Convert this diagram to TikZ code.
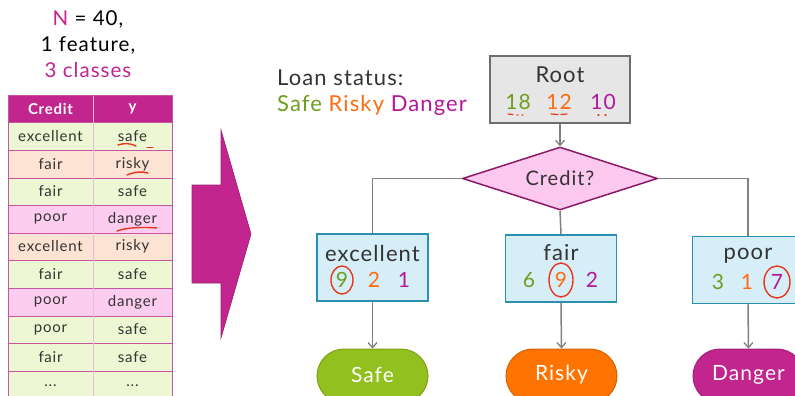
\documentclass[tikz,border=0pt]{standalone}
\usepackage{fontspec}
\setmainfont{Lato}[LetterSpace=5]
\usetikzlibrary{arrows.meta,shapes.geometric}

\definecolor{magc}{HTML}{C2258E}
\definecolor{txtgreen}{HTML}{6E9E1E}
\definecolor{txtorange}{HTML}{FF6A13}
\definecolor{txtmag}{HTML}{B3179C}
\definecolor{rowsafe}{HTML}{EEF7D4}
\definecolor{rowrisky}{HTML}{FDE3D3}
\definecolor{rowdanger}{HTML}{FDCDF0}
\definecolor{tabline}{HTML}{C8559F}
\definecolor{leaffill}{HTML}{D6EEF8}
\definecolor{leafline}{HTML}{2A8FB0}
\definecolor{rootfill}{HTML}{E6E6E6}
\definecolor{rootline}{HTML}{6E6E6E}
\definecolor{diafill}{HTML}{FCC8EE}
\definecolor{dialine}{HTML}{8B1A6B}
\definecolor{conn}{HTML}{808080}
\definecolor{pillgreen}{HTML}{92C01F}
\definecolor{pillorange}{HTML}{FF7300}
\definecolor{penred}{HTML}{E8361C}
\definecolor{inkdark}{HTML}{333333}

\tikzset{
  fsz/.style={font=\fontsize{#1}{#1}\selectfont},
  celltxt/.style={fsz=15, text=inkdark, inner sep=0pt},
  headtxt/.style={font=\fontsize{15}{15}\selectfont\bfseries, text=white, inner sep=0pt},
  leafbox/.style={draw=leafline, line width=1.5pt, fill=leaffill, minimum width=111pt, minimum height=67pt, inner sep=0pt},
  pill/.style={rounded corners=27pt, minimum width=111pt, minimum height=54pt, inner sep=0pt, line width=1pt},
  pilltxt/.style={fsz=21, text=white, inner sep=0pt},
  conline/.style={draw=conn, line width=1.5pt},
  conarrow/.style={conline, -{Straight Barb[length=5pt,width=9pt,line width=1.3pt]}},
  pen/.style={draw=penred, line width=1.4pt, line cap=round},
  numtxt/.style={fsz=21, inner sep=0pt},
}

\begin{document}
\begin{tikzpicture}[x=1pt,y=-1pt]
\useasboundingbox (0,0) rectangle (795,396);
\fill[white] (0,0) rectangle (795,396);

% data summary
\node[fsz=20.5, inner sep=0pt] (hN) at (88,19) {\textcolor{magc}{N} = 40,};
\node[fsz=20.5, inner sep=0pt] (hF) at (88,45) {1 feature,};
\node[fsz=20.5, inner sep=0pt, text=magc] (hC) at (88,70) {3 classes};

% table header
\fill[magc] (8,95) rectangle (172,122);
\draw[white!70!magc, line width=0.6pt] (93,95) -- (93,122);
\node[headtxt] (thA) at (50.5,108.5) {Credit};
\node[headtxt] (thB) at (132.5,108.5) {y};

% table rows: top, bottom, fill, credit, label
\foreach \t/\b/\c/\ca/\cb [count=\i] in {
  122/150/rowsafe/excellent/safe,
  150/178/rowrisky/fair/risky,
  178/205/rowsafe/fair/safe,
  205/233/rowdanger/poor/danger,
  233/260/rowrisky/excellent/risky,
  260/288/rowsafe/fair/safe,
  288/316/rowdanger/poor/danger,
  316/343/rowsafe/poor/safe,
  343/371/rowsafe/fair/safe}{
  \fill[\c] (8,\t) rectangle (172,\b);
  \draw[tabline, line width=0.7pt] (8,\t) -- (172,\t);
  \node[celltxt] (ca\i) at (50.5,{(\t+\b)/2}) {\ca};
  \node[celltxt] (cb\i) at (132.5,{(\t+\b)/2}) {\cb};
}
% trailing row, continued below the edge
\fill[rowsafe] (8,371) rectangle (172,400);
\draw[tabline, line width=0.7pt] (8,371) -- (172,371);
\node[celltxt] (ca10) at (50.5,386) {...};
\node[celltxt] (cb10) at (132.5,386) {...};
\draw[white!60!tabline, line width=0.6pt] (93,122) -- (93,400);
\draw[tabline, line width=1pt] (8,95) -- (8,400) (172,95) -- (172,400);
\draw[tabline, line width=1pt] (8,95) -- (172,95);

% pen marks in the table
\draw[pen] (118,145) .. controls (124,143) and (130,143) .. (136,146);
\draw[pen] (147,147.5) -- (153,147.5);
\draw[pen] (127,175) .. controls (134,172) and (142,171) .. (148,173);
\draw[pen] (117,231) .. controls (128,227) and (145,227) .. (157,228);

% block arrow
\draw[fill=magc, draw=magc!80!black, line width=0.6pt]
  (192,185) -- (221,185) -- (221,130) -- (251,234) -- (221,338) -- (221,283) -- (192,283) -- cycle;

% legend
\node[fsz=22, anchor=west, inner sep=0pt, text=inkdark] (lgA) at (277,78) {Loan status:};
\node[fsz=22, anchor=west, inner sep=0pt] (lgB) at (277,105)
  {\textcolor{txtgreen}{Safe} \textcolor{txtorange}{Risky} \textcolor{txtmag}{Danger}};

% root
\node[draw=rootline, line width=1.5pt, fill=rootfill, minimum width=140pt, minimum height=67pt, inner sep=0pt] (root) at (560,89.5) {};
\node[fsz=22, text=inkdark, inner sep=0pt] (rootT) at (560,75) {Root};
\node[numtxt, text=txtgreen] (r1) at (518,102) {18};
\node[numtxt, text=txtorange] (r2) at (559,102) {12};
\node[numtxt, text=txtmag] (r3) at (603,102) {10};
\draw[pen, line width=1.2pt] (508,114) -- (513,114.5) (517,115) -- (518,115) (522,115) -- (523,115);
\draw[pen, line width=1.2pt] (551,114) -- (558,114.5) (561,114.5) -- (567,114);
\draw[pen, line width=1.2pt] (598,115) -- (599,115) (605,115) -- (606,115);

% split
\node[shape=diamond, draw=dialine, line width=1.5pt, fill=diafill, minimum width=195pt, minimum height=63pt, inner sep=0pt] (split) at (560,178.5) {};
\node[fsz=20, text=inkdark, inner sep=0pt] (splitT) at (560,178.5) {Credit?};

% leaves
\node[leafbox] (ex) at (372.5,267.5) {};
\node[fsz=22, text=inkdark, inner sep=0pt] (exT) at (372.5,253) {excellent};
\node[numtxt, text=txtgreen] (e1) at (342,280) {9};
\node[numtxt, text=txtorange] (e2) at (374,280) {2};
\node[numtxt, text=txtmag] (e3) at (404,280) {1};

\node[leafbox] (fa) at (561,268.5) {};
\node[fsz=22, text=inkdark, inner sep=0pt] (faT) at (561,253) {fair};
\node[numtxt, text=txtgreen] (f1) at (529,280) {6};
\node[numtxt, text=txtorange] (f2) at (561,280) {9};
\node[numtxt, text=txtmag] (f3) at (592,280) {2};

\node[leafbox] (po) at (748,270) {};
\node[fsz=22, text=inkdark, inner sep=0pt] (poT) at (748,256) {poor};
\node[numtxt, text=txtgreen] (p1) at (718,282) {3};
\node[numtxt, text=txtorange] (p2) at (747,282) {1};
\node[numtxt, text=txtmag] (p3) at (777,282) {7};

% circled majority counts
\draw[pen] (e1) ellipse [x radius=11pt, y radius=14pt];
\draw[pen] (f2) ellipse [x radius=12pt, y radius=17pt];
\draw[pen] (p3) ellipse [x radius=13pt, y radius=16pt];

% predictions
\node[pill, fill=pillgreen, draw=pillgreen!85!black] (pS) at (372.5,376) {};
\node[pilltxt] (pST) at (372.5,375) {Safe};
\node[pill, fill=pillorange, draw=pillorange!85!black] (pR) at (561.5,376) {};
\node[pilltxt] (pRT) at (561.5,375) {Risky};
\node[pill, fill=magc, draw=magc!85!black] (pD) at (748.5,376) {};
\node[pilltxt] (pDT) at (748.5,375) {Danger};

% connectors
\draw[conarrow] (root.south) -- (split.north);
\draw[conline] (split.west) -| (ex.north);
\draw[conline] (split.south) -- (fa.north);
\draw[conline] (split.east) -| (po.north);
\draw[conarrow] (ex.south) -- (pS.north);
\draw[conarrow] (fa.south) -- (pR.north);
\draw[conarrow] (po.south) -- (pD.north);
\end{tikzpicture}
\end{document}
